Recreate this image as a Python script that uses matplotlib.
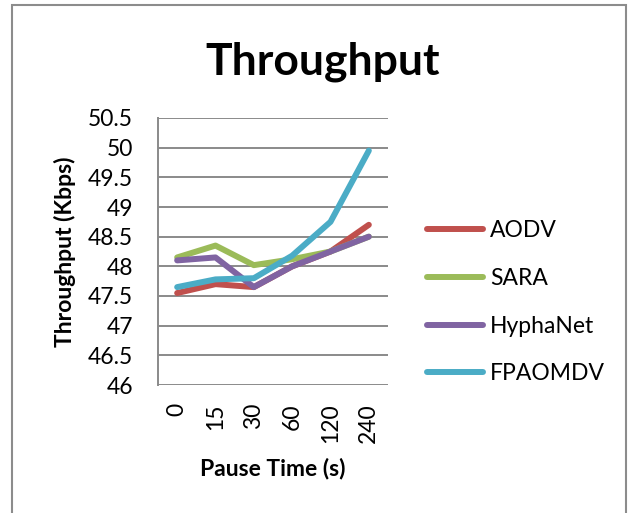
import matplotlib.pyplot as plt
from matplotlib.patches import Rectangle

plt.rcParams['font.family'] = ['Lato', 'DejaVu Sans']

pause_times = ['0', '15', '30', '60', '120', '240']
aodv = [47.55, 47.70, 47.65, 48.00, 48.25, 48.70]
sara = [48.15, 48.35, 48.02, 48.12, 48.25, 48.50]
hyphanet = [48.10, 48.15, 47.65, 48.00, 48.25, 48.50]
fpaomdv = [47.65, 47.78, 47.80, 48.18, 48.75, 49.95]

series = [('AODV', aodv, '#C0504D'),
          ('SARA', sara, '#9BBB59'),
          ('HyphaNet', hyphanet, '#8064A2'),
          ('FPAOMDV', fpaomdv, '#4BACC6')]

W, H = 628, 513
fig = plt.figure(figsize=(W / 100, H / 100), dpi=100)

# outer chart frame
fig.patches.append(Rectangle((12 / W, -0.01), (626 - 12) / W, 1.01 - 5 / H,
                             transform=fig.transFigure, fill=False,
                             edgecolor='#8c8c8c', linewidth=1.5))

ax = fig.add_axes([158 / W, 1 - 385 / H, 230 / W, 267 / H])
x = list(range(len(pause_times)))
for name, vals, col in series:
    ax.plot(x, vals, color=col, linewidth=4.3, label=name, solid_capstyle='round')

ax.set_xlim(-0.5, len(pause_times) - 0.5)
ax.set_ylim(46, 50.5)
ax.set_yticks([46 + 0.5 * i for i in range(10)])
ax.set_yticklabels(['46', '46.5', '47', '47.5', '48', '48.5', '49', '49.5', '50', '50.5'])
ax.set_xticks(x)
ax.set_xticklabels(pause_times, rotation=90)
ax.grid(axis='y', color='#8a8a8a', linewidth=1.4)
ax.set_axisbelow(True)
for s in ['top', 'right', 'bottom']:
    ax.spines[s].set_visible(False)
ax.spines['left'].set_color('#8a8a8a')
ax.spines['left'].set_linewidth(1.4)
ax.tick_params(axis='both', length=0, labelsize=16.5)
ax.tick_params(axis='x', pad=13)
ax.tick_params(axis='y', pad=18)

ax.set_xlabel('Pause Time (s)', fontsize=16.5, fontweight='bold', va='center')
ax.xaxis.set_label_coords(0.5, -0.311)
ax.set_ylabel('Throughput (Kbps)', fontsize=16.5, fontweight='bold', va='center')
ax.yaxis.set_label_coords(-0.404, 0.5)
fig.text(323 / W, 1 - 62 / H, 'Throughput', fontsize=32, fontweight='bold',
         ha='center', va='center')

ax.legend(loc='center left', bbox_to_anchor=(1.17, 0.31), frameon=False,
          borderpad=0, borderaxespad=0, fontsize=16.5, handlelength=2.45,
          handletextpad=0.3, labelspacing=1.17)

fig.savefig('out.png', dpi=100)
